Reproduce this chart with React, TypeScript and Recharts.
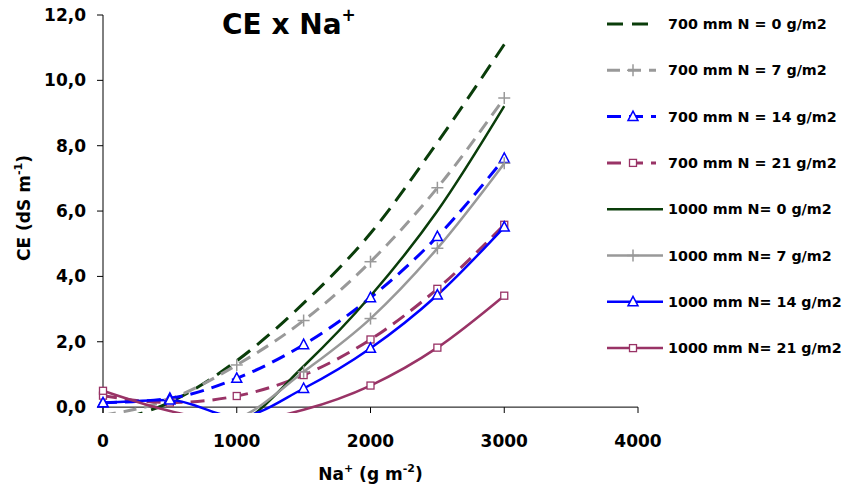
import React from 'react'
import { LineChart, Line, XAxis, YAxis, ReferenceLine, Label } from 'recharts'

// Na+ applied (g m-2) and measured CE (dS m-1)
const naPoints = [0, 500, 1000, 1500, 2000, 2500, 3000]
const naTicks = [0, 1000, 2000, 3000, 4000]
const ceTicks = [0, 2, 4, 6, 8, 10, 12]

const ce700N0 = [-0.5, 0.15, 1.42, 3.18, 5.32, 8.1, 11.1]
const ce700N7 = [-0.25, 0.24, 1.29, 2.65, 4.45, 6.71, 9.46]
const ce700N14 = [0.13, 0.27, 0.88, 1.91, 3.35, 5.22, 7.61]
const ce700N21 = [0.35, 0.14, 0.34, 0.98, 2.07, 3.62, 5.58]
const ce1000N0 = [-0.9, -1.0, -0.55, 1.25, 3.4, 6.0, 9.21]
const ce1000N7 = [-0.6, -0.7, -0.35, 1.08, 2.71, 4.86, 7.46]
const ce1000N14 = [0.13, 0.22, -0.3, 0.57, 1.8, 3.43, 5.51]
const ce1000N21 = [0.5, -0.12, -0.45, -0.08, 0.66, 1.82, 3.41]

const seriesNames = [
  '700 mm N = 0 g/m2',
  '700 mm N = 7 g/m2',
  '700 mm N = 14 g/m2',
  '700 mm N = 21 g/m2',
  '1000 mm N= 0 g/m2',
  '1000 mm N= 7 g/m2',
  '1000 mm N= 14 g/m2',
  '1000 mm N= 21 g/m2',
]

const FONT = '"DejaVu Sans", Arial, sans-serif'

type MarkerKind = 'none' | 'plus' | 'triangle' | 'square'

const series: { key: string; values: number[]; color: string; width: number; dash?: string; marker: MarkerKind }[] = [
  { key: 's0', values: ce700N0, color: '#0a3d0a', width: 3, dash: '16 9', marker: 'none' },
  { key: 's1', values: ce700N7, color: '#999999', width: 3, dash: '13 8', marker: 'plus' },
  { key: 's2', values: ce700N14, color: '#0000ff', width: 3, dash: '14 8', marker: 'triangle' },
  { key: 's3', values: ce700N21, color: '#993366', width: 3, dash: '14 8', marker: 'square' },
  { key: 's4', values: ce1000N0, color: '#0a3d0a', width: 2.5, marker: 'none' },
  { key: 's5', values: ce1000N7, color: '#999999', width: 2.5, marker: 'plus' },
  { key: 's6', values: ce1000N14, color: '#0000ff', width: 2.5, marker: 'triangle' },
  { key: 's7', values: ce1000N21, color: '#993366', width: 2.5, marker: 'square' },
]

const rows = naPoints.map((na, i) => {
  const row: Record<string, number> = { na }
  series.forEach(s => { row[s.key] = s.values[i] })
  return row
})

function Marker({ kind, cx, cy, color }: { kind: MarkerKind; cx: number; cy: number; color: string }) {
  if (kind === 'plus') {
    return (
      <g stroke={color} strokeWidth={1.5}>
        <line x1={cx - 6} y1={cy} x2={cx + 6} y2={cy} />
        <line x1={cx} y1={cy - 6} x2={cx} y2={cy + 6} />
      </g>
    )
  }
  if (kind === 'triangle') {
    return <path d={`M${cx},${cy - 5.5} L${cx + 5},${cy + 4} L${cx - 5},${cy + 4} Z`} fill="#fff" stroke={color} strokeWidth={1.5} />
  }
  if (kind === 'square') {
    return <rect x={cx - 3.5} y={cy - 3.5} width={7} height={7} fill="#fff" stroke={color} strokeWidth={1.3} />
  }
  return null
}

const fmtCe = (v: number) => v.toFixed(1).replace('.', ',')

function XTick(props: any) {
  const { x, y, payload } = props
  return (
    <text x={x} y={y + 34} textAnchor="middle" fontFamily={FONT} fontWeight="bold" fontSize={17} fill="#000">
      {payload.value}
    </text>
  )
}

function XTitle(props: any) {
  const { viewBox } = props
  const cx = viewBox.x + viewBox.width / 2
  return (
    <text x={cx} y={viewBox.y + 67} textAnchor="middle" fontFamily={FONT} fontWeight="bold" fontSize={17} fill="#000">
      Na<tspan fontSize={11} dy={-8}>+</tspan>
      <tspan dy={8}> (g m</tspan>
      <tspan fontSize={11} dy={-8}>-2</tspan>
      <tspan dy={8}>)</tspan>
    </text>
  )
}

function YTitle(props: any) {
  const { viewBox } = props
  const cx = 30
  const cy = viewBox.y + 193
  return (
    <text x={cx} y={cy} transform={`rotate(-90 ${cx} ${cy})`} textAnchor="middle" fontFamily={FONT} fontWeight="bold" fontSize={17} fill="#000">
      CE (dS m<tspan fontSize={11} dy={-8}>-1</tspan>
      <tspan dy={8}>)</tspan>
    </text>
  )
}

export default function App() {
  return (
    <div style={{ position: 'absolute', left: 0, top: 0, width: 844, height: 488, background: '#fff' }}>
      <LineChart width={844} height={488} data={rows} margin={{ top: 15, right: 206, bottom: 0, left: 0 }}>
        <XAxis
          dataKey="na"
          type="number"
          domain={[0, 4000]}
          ticks={naTicks}
          axisLine={false}
          tickLine={false}
          tickSize={0}
          tickMargin={0}
          height={75}
          tick={<XTick />}
        >
          <Label content={<XTitle />} />
        </XAxis>
        <YAxis
          type="number"
          domain={[-0.18, 12]}
          ticks={ceTicks}
          allowDataOverflow
          width={103}
          tickSize={6}
          tickMargin={11}
          tickFormatter={fmtCe}
          axisLine={{ stroke: '#000', strokeWidth: 1 }}
          tickLine={{ stroke: '#000', strokeWidth: 1 }}
          tick={{ fill: '#000', fontFamily: FONT, fontWeight: 'bold', fontSize: 17 }}
        >
          <Label content={<YTitle />} />
        </YAxis>
        <ReferenceLine y={0} stroke="#000" strokeWidth={1} />
        {naTicks.map(t => (
          <ReferenceLine key={t} segment={[{ x: t, y: 0 }, { x: t, y: -0.18 }]} stroke="#000" strokeWidth={1} />
        ))}
        {series.map(s => (
          <Line
            key={s.key}
            dataKey={s.key}
            type="monotone"
            stroke={s.color}
            strokeWidth={s.width}
            strokeDasharray={s.dash}
            isAnimationActive={false}
            dot={s.marker === 'none' ? false : (p: any) => (
              p.value < 0
                ? <g key={`${s.key}-${p.index}`} />
                : <Marker key={`${s.key}-${p.index}`} kind={s.marker} cx={p.cx} cy={p.cy} color={s.color} />
            )}
            activeDot={false}
          />
        ))}
      </LineChart>
      <svg width={844} height={488} style={{ position: 'absolute', left: 0, top: 0, pointerEvents: 'none' }}>
        <text x={222} y={34} fontFamily={FONT} fontWeight="bold" fontSize={28} fill="#000">
          CE x Na<tspan fontSize={17} dy={-13}>+</tspan>
        </text>
        {series.map((s, i) => {
          const cy = 24 + i * 46.3
          const x2 = i < 4 ? 656 : 663
          return (
            <g key={s.key}>
              <line x1={607} y1={cy} x2={x2} y2={cy} stroke={s.color} strokeWidth={s.width} strokeDasharray={s.dash} />
              <Marker kind={s.marker} cx={633} cy={cy} color={s.color} />
              <text x={668} y={cy + 5} fontFamily={FONT} fontWeight="bold" fontSize={14.3} fill="#000">
                {seriesNames[i]}
              </text>
            </g>
          )
        })}
      </svg>
    </div>
  )
}
